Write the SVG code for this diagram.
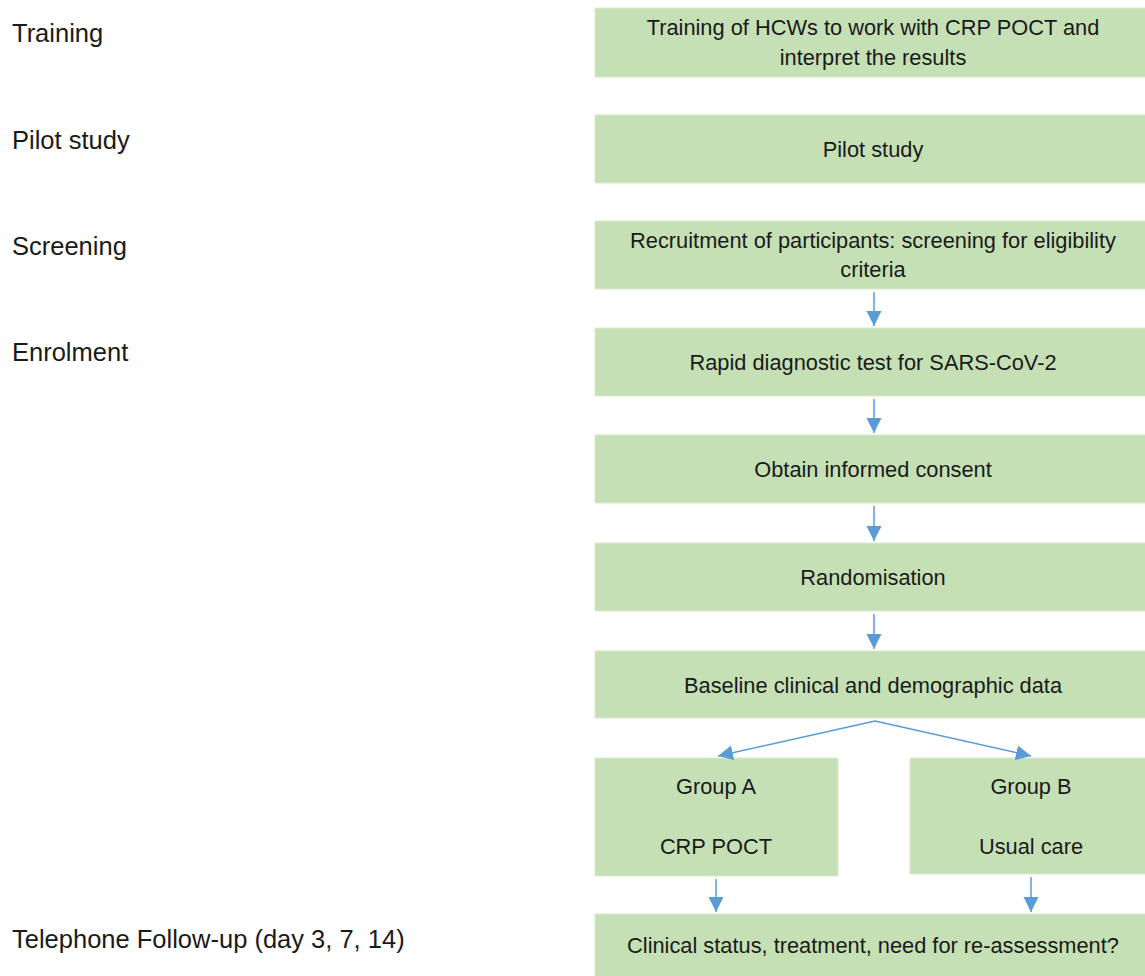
<svg xmlns="http://www.w3.org/2000/svg" width="1145" height="976" viewBox="0 0 1145 976">
<style>
.box{fill:#C5E0B4;stroke:#D9EBCC;stroke-width:1}
.t{font-family:"Liberation Sans",Arial,sans-serif;font-size:21.8px;fill:#1a1a1a;text-anchor:middle}
.l{font-family:"Liberation Sans",Arial,sans-serif;font-size:25.5px;fill:#1a1a1a}
.c{stroke:#5B9BD5;stroke-width:1.5;fill:none}
</style>
<defs>
<marker id="ah2" markerWidth="16" markerHeight="16" refX="15" refY="8" orient="auto" markerUnits="userSpaceOnUse" viewBox="0 0 16 16">
<path d="M0,0.5 L15,8 L0,15.5 z" fill="#5B9BD5"/>
</marker>
</defs>
<g id="labels">
<text class="l" x="12" y="42">Training</text>
<text class="l" x="12" y="149">Pilot study</text>
<text class="l" x="12" y="255">Screening</text>
<text class="l" x="12" y="361">Enrolment</text>
<text class="l" x="12" y="948">Telephone Follow-up (day 3, 7, 14)</text>
</g>
<g id="n1"><rect class="box" x="595" y="8" width="555" height="69"/><text class="t" x="873" y="35">Training of HCWs to work with CRP POCT and</text><text class="t" x="873" y="65">interpret the results</text></g>
<g id="n2"><rect class="box" x="595" y="115" width="555" height="68"/><text class="t" x="873" y="157">Pilot study</text></g>
<g id="n3"><rect class="box" x="595" y="221" width="555" height="68"/><text class="t" x="873" y="248">Recruitment of participants: screening for eligibility</text><text class="t" x="873" y="277">criteria</text></g>
<g id="n4"><rect class="box" x="595" y="328" width="555" height="68"/><text class="t" x="873" y="370">Rapid diagnostic test for SARS-CoV-2</text></g>
<g id="n5"><rect class="box" x="595" y="435" width="555" height="68"/><text class="t" x="873" y="477">Obtain informed consent</text></g>
<g id="n6"><rect class="box" x="595" y="543" width="555" height="68"/><text class="t" x="873" y="585">Randomisation</text></g>
<g id="n7"><rect class="box" x="595" y="651" width="555" height="67"/><text class="t" x="873" y="693">Baseline clinical and demographic data</text></g>
<g id="n8"><rect class="box" x="595" y="758" width="243" height="118"/><text class="t" x="716" y="794">Group A</text><text class="t" x="716" y="854">CRP POCT</text></g>
<g id="n9"><rect class="box" x="910" y="758" width="240" height="116"/><text class="t" x="1031" y="794">Group B</text><text class="t" x="1031" y="854">Usual care</text></g>
<g id="n10"><rect class="box" x="595" y="914" width="555" height="67"/><text class="t" x="873" y="953">Clinical status, treatment, need for re-assessment?</text></g>
<g id="connectors">
<line class="c" x1="874" y1="292" x2="874" y2="326" marker-end="url(#ah2)"/>
<line class="c" x1="874" y1="399" x2="874" y2="433" marker-end="url(#ah2)"/>
<line class="c" x1="874" y1="506" x2="874" y2="541" marker-end="url(#ah2)"/>
<line class="c" x1="874" y1="614" x2="874" y2="649" marker-end="url(#ah2)"/>
<line class="c" x1="875" y1="721" x2="718" y2="756" marker-end="url(#ah2)"/>
<line class="c" x1="875" y1="721" x2="1031" y2="756" marker-end="url(#ah2)"/>
<line class="c" x1="716" y1="879" x2="716" y2="912" marker-end="url(#ah2)"/>
<line class="c" x1="1031" y1="877" x2="1031" y2="912" marker-end="url(#ah2)"/>
</g>
</svg>
